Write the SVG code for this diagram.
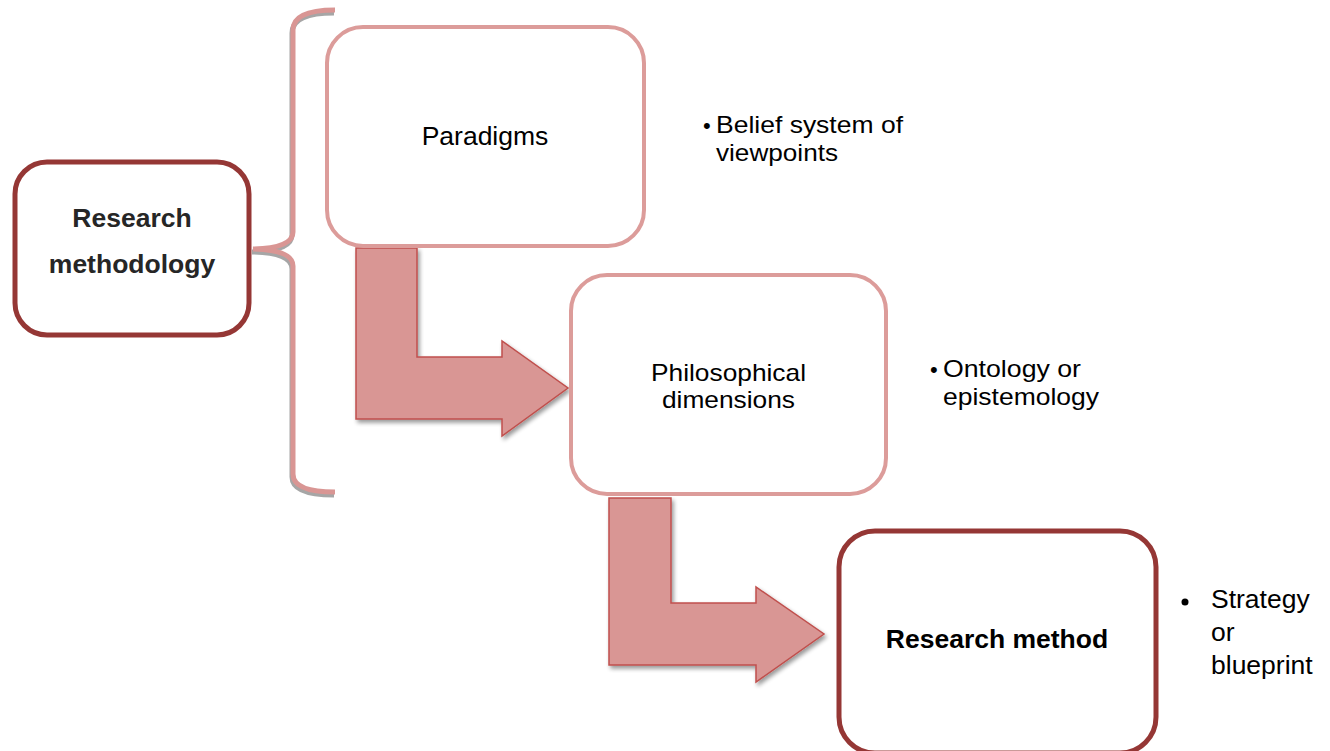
<svg xmlns="http://www.w3.org/2000/svg" width="1330" height="751" viewBox="0 0 1330 751">
  <defs>
    <filter id="shadow" x="-10%" y="-10%" width="130%" height="130%">
      <feGaussianBlur in="SourceAlpha" stdDeviation="2"/>
      <feOffset dx="2" dy="3" result="b"/>
      <feComponentTransfer><feFuncA type="linear" slope="0.4"/></feComponentTransfer>
      <feMerge><feMergeNode/><feMergeNode in="SourceGraphic"/></feMerge>
    </filter>
  </defs>
  <style>
    .box-dark { fill: #ffffff; stroke: #953735; stroke-width: 5; }
    .box-light { fill: #ffffff; stroke: #dc9c9a; stroke-width: 4; }
    .arrow { fill: #d99694; stroke: #c0504d; stroke-width: 1.5; }
    .label { font-family: "Liberation Sans", Arial, sans-serif; font-size: 26.5px; fill: #000000; }
    .tight { font-size: 24px; }
    .bold { font-weight: bold; }
    .grey { fill: #262626; }
    .brace { fill: none; stroke: #d99694; stroke-width: 5; stroke-linecap: butt; }
    .brace-shadow { fill: none; stroke: #a6a6a6; stroke-width: 5; }
  </style>

  <!-- bracket grouping the first two stages -->
  <g id="brace">
    <path class="brace-shadow" transform="translate(-1,3)" d="M335,10 Q293,10 293,30 L293,232 Q293,248 253,249 Q293,250 293,266 L293,474 Q293,492 335,492"/>
    <path class="brace" d="M335,10 Q293,10 293,30 L293,232 Q293,248 253,249 Q293,250 293,266 L293,474 Q293,492 335,492"/>
  </g>

  <!-- bent arrows between stages -->
  <g id="connectors">
    <path class="arrow" filter="url(#shadow)" d="M356,248 L417,248 L417,357 L502,357 L502,341 L568,388 L502,436 L502,419 L356,419 Z"/>
    <path class="arrow" filter="url(#shadow)" d="M609,498 L671,498 L671,603 L756,603 L756,587 L824,634 L756,682 L756,665 L609,665 Z"/>
  </g>

  <g id="research-methodology">
    <rect class="box-dark" x="15" y="162" width="234" height="173" rx="32"/>
    <text class="label bold grey" x="132" y="227" text-anchor="middle">Research</text>
    <text class="label bold grey" x="132" y="273" text-anchor="middle">methodology</text>
  </g>

  <g id="paradigms">
    <rect class="box-light" x="327" y="27" width="317" height="219" rx="36"/>
    <text class="label" x="485" y="145" text-anchor="middle">Paradigms</text>
  </g>

  <g id="philosophical-dimensions">
    <rect class="box-light" x="571" y="275" width="315" height="219" rx="36"/>
    <text class="label tight" x="651" y="381" textLength="155" lengthAdjust="spacingAndGlyphs">Philosophical</text>
    <text class="label tight" x="662" y="408" textLength="133" lengthAdjust="spacingAndGlyphs">dimensions</text>
  </g>

  <g id="research-method">
    <rect class="box-dark" x="839" y="531" width="317" height="222" rx="36"/>
    <text class="label bold" x="997" y="648" text-anchor="middle">Research method</text>
  </g>

  <!-- bullet notes -->
  <g id="note-paradigms">
    <text class="label" x="703" y="133" style="font-size:22px">•</text>
    <text class="label tight" x="716" y="133" textLength="187" lengthAdjust="spacingAndGlyphs">Belief system of</text>
    <text class="label tight" x="716" y="161" textLength="122" lengthAdjust="spacingAndGlyphs">viewpoints</text>
  </g>
  <g id="note-philosophical">
    <text class="label" x="930" y="377" style="font-size:22px">•</text>
    <text class="label tight" x="943" y="377" textLength="138" lengthAdjust="spacingAndGlyphs">Ontology or</text>
    <text class="label tight" x="943" y="405" textLength="156" lengthAdjust="spacingAndGlyphs">epistemology</text>
  </g>
  <g id="note-method">
    <circle cx="1185" cy="602" r="3.5" fill="#000000"/>
    <text class="label" x="1211" y="608">Strategy</text>
    <text class="label" x="1211" y="641">or</text>
    <text class="label" x="1211" y="674">blueprint</text>
  </g>
</svg>
